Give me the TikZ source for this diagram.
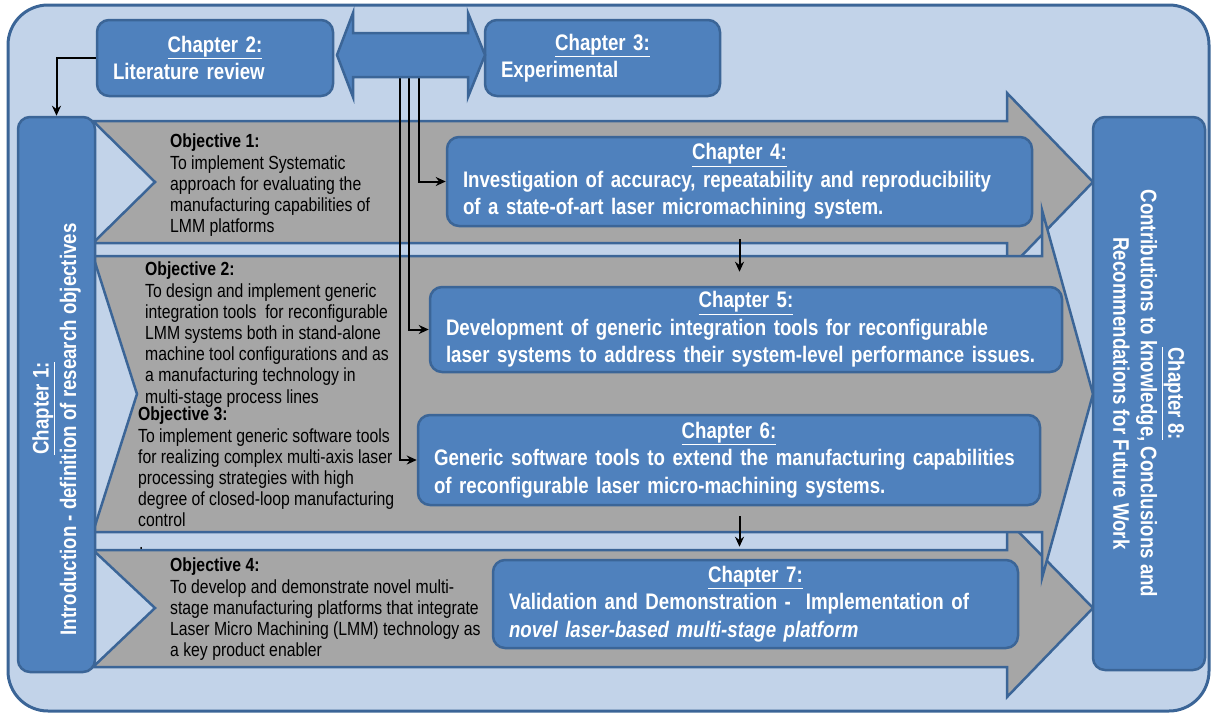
\documentclass[tikz,border=0pt]{standalone}
\usepackage{fontspec}
\setmainfont{Liberation Sans}
\newfontfamily\narrowfont[FakeStretch=0.83]{Liberation Sans}
\usetikzlibrary{arrows.meta, positioning, calc}
\definecolor{mapblue}{HTML}{4F81BD}
\definecolor{mapedge}{HTML}{3B6597}
\definecolor{mappale}{HTML}{C2D3E9}
\definecolor{mapgray}{HTML}{A6A6A6}
% centred, underlined heading line inside a left-aligned box
\newcommand{\chaphead}[1]{\makebox[\hsize]{\underline{#1}}\\}
\tikzset{
  outerframe/.style={fill=mappale, draw=mapedge, line width=3pt, rounded corners=40pt},
  band/.style={fill=mapgray, draw=mapedge, line width=2.5pt, line join=miter},
  chapbox/.style={rounded corners=12pt, fill=mapblue, draw=mapedge, line width=2.5pt,
    text=white, align=left, inner xsep=16pt, inner ysep=0pt,
    font=\narrowfont\bfseries\fontsize{22.5}{27.5}\selectfont},
  chapside/.style={chapbox, align=center},
  objtext/.style={anchor=north west, inner sep=0pt, align=left,
    font=\narrowfont\fontsize{19}{21.2}\selectfont},
  link/.style={line width=2pt, -{Stealth[length=10pt, width=9pt]}},
}

\begin{document}
\begin{tikzpicture}[x=1pt, y=-1pt]
  \useasboundingbox (0,0) rectangle (1216,715);
  % pale panel round the whole thesis map
  \draw[outerframe] (8,5) rectangle (1209,711);
  % grey objective arrows: 2 lies over 1 and 3
  \draw[band] (93,121) -- (1007,121) -- (1007,93) -- (1093,182) -- (1007,271)
    -- (1007,243) -- (93,243) -- (155,182) -- cycle;
  \draw[band] (93,550) -- (1007,550) -- (1007,520) -- (1093,608) -- (1007,697)
    -- (1007,667) -- (93,667) -- (155,608) -- cycle;
  \draw[band] (93,256) -- (1042,256) -- (1042,210) -- (1093,394) -- (1042,578)
    -- (1042,532) -- (93,532) -- (137,394) -- cycle;

  % objectives
  \node[objtext] (obj1) at (170,134) {\textbf{Objective 1:}\\To implement Systematic\\approach for evaluating the\\manufacturing capabilities of\\LMM platforms};
  \node[objtext] (obj2) at (145,262) {\textbf{Objective 2:}\\To design and implement generic\\integration tools\ \ for reconfigurable\\LMM systems both in stand-alone\\machine tool configurations and as\\a manufacturing technology in\\multi-stage process lines};
  \node[objtext] (obj3) at (138,407) {\textbf{Objective 3:}\\To implement generic software tools\\for realizing complex multi-axis laser\\processing strategies with high\\degree of closed-loop manufacturing\\control};
  \node[objtext] (stray) at (139,547) {.};
  \node[objtext] (obj4) at (170,558) {\textbf{Objective 4:}\\To develop and demonstrate novel multi-\\stage manufacturing platforms that integrate\\Laser Micro Machining (LMM) technology as\\a key product enabler};

  % chapters
  \node[chapside, rotate=90, minimum width=555pt, minimum height=77pt] (ch1) at (56.5,394.5)
    {\underline{Chapter 1:}\hspace{28pt}\mbox{}\\Introduction - definition of research objectives\hspace{70pt}\mbox{}};
  \node[chapbox, minimum width=236pt, minimum height=76pt, text width=204pt] (ch2) at (215,58)
    {\chaphead{Chapter 2:}Literature review};
  \node[chapbox, minimum width=235pt, minimum height=76pt, text width=203pt] (ch3) at (602.5,58)
    {\chaphead{Chapter 3:}Experimental};
  \node[chapbox, minimum width=585pt, minimum height=89pt, text width=553pt] (ch4) at (739.5,181.5)
    {\chaphead{Chapter 4:}Investigation of accuracy, repeatability and reproducibility\\of a state-of-art laser micromachining system.};
  \node[chapbox, minimum width=632pt, minimum height=85pt, text width=600pt] (ch5) at (746,329.5)
    {\chaphead{Chapter 5:}Development of generic integration tools for reconfigurable\\laser systems to address their system-level performance issues.};
  \node[chapbox, minimum width=622pt, minimum height=90pt, text width=590pt] (ch6) at (729,460)
    {\chaphead{Chapter 6:}Generic software tools to extend the manufacturing capabilities\\of reconfigurable laser micro-machining systems.};
  \node[chapbox, minimum width=525pt, minimum height=88pt, text width=493pt] (ch7) at (755.5,604)
    {\chaphead{Chapter 7:}Validation and Demonstration -\ \ Implementation of\\\textit{novel laser-based multi-stage platform}};
  \node[chapside, rotate=-90, minimum width=553pt, minimum height=112pt] (ch8) at (1149,393.5)
    {\underline{Chapter 8:}\\Contributions to knowledge, Conclusions and\\Recommendations for Future Work};

  % review and experiments feed the three middle chapters
  \foreach \x/\c in {400/ch6, 409/ch5, 419/ch4}{
    \coordinate (feed-\c) at (\x,77);
    \draw[link] (feed-\c) |- (\c.west);
  }
  \draw[fill=mapblue, draw=mapedge, line width=2.5pt, line join=miter]
    (337,55) -- (353,13) -- (353,33) -- (468,33) -- (468,13) -- (485,55)
    -- (468,97) -- (468,77) -- (353,77) -- (353,97) -- cycle;
  \draw[link] (ch2.west) -| (ch1.east);
  \draw[link, shorten <=12pt, shorten >=14pt] (ch4.south) -- (ch4.south |- ch5.north);
  \draw[link, shorten <=10pt, shorten >=12pt] (ch4.south |- ch6.south) -- (ch4.south |- ch7.north);
\end{tikzpicture}
\end{document}
